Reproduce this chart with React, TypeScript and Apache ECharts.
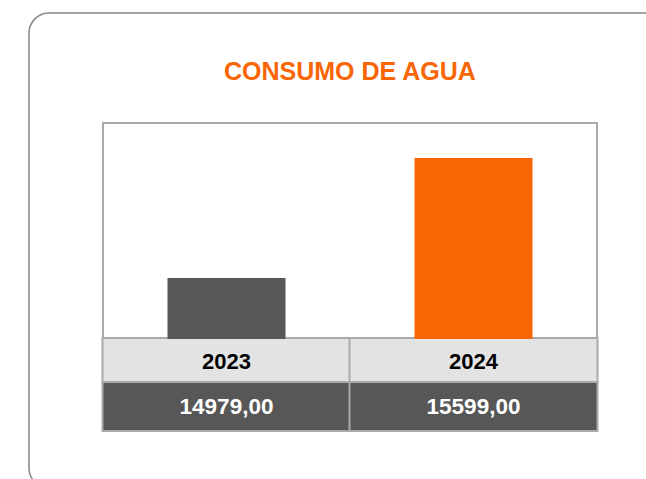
import React, { useEffect, useRef } from "react";
import * as echarts from "echarts";

const TITLE = "CONSUMO DE AGUA";
const categories = ["2023", "2024"];
const consumo = [14979, 15599];
const barColors = ["#575757", "#f96606"];

const Y_MIN = 14664;
const Y_MAX = 15780;
const FONT = "'Liberation Sans', Arial, Helvetica, sans-serif";

const fmt = (v: number) => v.toFixed(2).replace(".", ",");

export default function App() {
  const ref = useRef<HTMLDivElement>(null);
  useEffect(() => {
    if (!ref.current) return;
    const chart = echarts.init(ref.current, undefined, { renderer: "svg" });
    chart.setOption({
      animation: false,
      backgroundColor: "#ffffff",
      title: {
        text: TITLE,
        left: 224,
        top: 57,
        padding: 0,
        textStyle: {
          color: "#f96606",
          fontSize: 25,
          lineHeight: 27,
          fontWeight: "bold",
          fontFamily: FONT,
        },
      },
      graphic: [
        {
          type: "rect",
          shape: { x: 29, y: 13, width: 660, height: 475, r: 20 },
          style: { fill: "none", stroke: "#858585", lineWidth: 1.5 },
          silent: true,
        },
      ],
      grid: {
        left: 103,
        top: 123,
        width: 494,
        height: 216,
        show: true,
        borderColor: "#aaaaaa",
        borderWidth: 2,
        backgroundColor: "#ffffff",
      },
      xAxis: [
        {
          type: "category",
          data: categories,
          position: "bottom",
          axisLine: { show: true, lineStyle: { color: "#aaaaaa", width: 2 } },
          axisTick: { show: false },
          axisLabel: {
            interval: 0,
            margin: 0,
            width: 246,
            height: 44,
            lineHeight: 44,
            padding: 0,
            align: "center",
            verticalAlign: "top",
            backgroundColor: "#e3e3e3",
            borderColor: "#aaaaaa",
            borderWidth: 2,
            color: "#000000",
            fontSize: 22,
            fontWeight: "bold",
            fontFamily: FONT,
          },
        },
        {
          type: "category",
          data: categories,
          position: "bottom",
          offset: 44,
          axisLine: { show: false },
          axisTick: { show: false },
          axisLabel: {
            interval: 0,
            margin: 0,
            width: 246,
            height: 47,
            lineHeight: 47,
            padding: 0,
            align: "center",
            verticalAlign: "top",
            backgroundColor: "#575757",
            borderColor: "#aaaaaa",
            borderWidth: 2,
            color: "#ffffff",
            fontSize: 22.5,
            fontWeight: "bold",
            fontFamily: FONT,
            formatter: (_v: string, i: number) => fmt(consumo[i]),
          },
        },
      ],
      yAxis: {
        type: "value",
        min: Y_MIN,
        max: Y_MAX,
        show: false,
        splitLine: { show: false },
      },
      series: [
        {
          type: "bar",
          xAxisIndex: 0,
          barWidth: 118,
          data: consumo.map((v, i) => ({
            value: v,
            itemStyle: { color: barColors[i] },
          })),
          label: { show: false },
        },
      ],
    });
    return () => chart.dispose();
  }, []);
  return (
    <div
      ref={ref}
      style={{ position: "absolute", left: 0, top: 0, width: 646, height: 479 }}
    />
  );
}
